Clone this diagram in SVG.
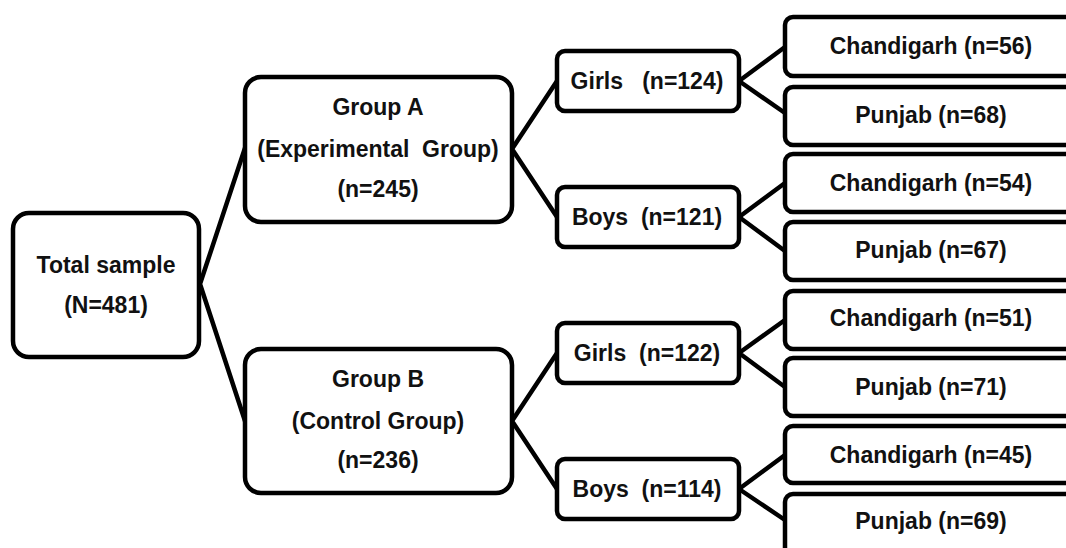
<svg xmlns="http://www.w3.org/2000/svg" width="1066" height="548" viewBox="0 0 1066 548">
<style>
.box{fill:#fff;stroke:#000;stroke-width:4.5}
.t{font-family:"Liberation Sans",Arial,sans-serif;font-weight:bold;font-size:23px;fill:#111;text-anchor:middle;white-space:pre}
.c{stroke:#000;stroke-width:4.5;fill:none;stroke-linecap:round;stroke-linejoin:round}
</style>
<rect width="1066" height="548" fill="#fff"/>
<g id="connectors">
<polyline class="c" points="245,148 200,284 245,421"/>
<polyline class="c" points="557,81 512,149 557,217"/>
<polyline class="c" points="557,353 512,421 557,489"/>
<polyline class="c" points="785,47 739,81 785,113"/>
<polyline class="c" points="785,183 739,217 785,251"/>
<polyline class="c" points="785,320 739,353 785,387"/>
<polyline class="c" points="785,455 739,489 785,520"/>
</g>
<g id="total">
<rect class="box" x="13" y="213" width="186" height="144" rx="16"/>
<text class="t" x="106" y="273">Total sample</text>
<text class="t" x="106" y="313">(N=481)</text>
</g>
<g id="groupA">
<rect class="box" x="245" y="77" width="267" height="145" rx="16"/>
<text class="t" x="378" y="115">Group A</text>
<text class="t" x="378" y="157">(Experimental  Group)</text>
<text class="t" x="378" y="197">(n=245)</text>
</g>
<g id="groupB">
<rect class="box" x="245" y="349" width="267" height="144" rx="16"/>
<text class="t" x="378" y="387">Group B</text>
<text class="t" x="378" y="429">(Control Group)</text>
<text class="t" x="378" y="468">(n=236)</text>
</g>
<g id="girlsA">
<rect class="box" x="557" y="51" width="182" height="60" rx="8"/>
<text class="t" x="647" y="89">Girls   (n=124)</text>
</g>
<g id="boysA">
<rect class="box" x="557" y="187" width="182" height="60" rx="8"/>
<text class="t" x="647" y="225">Boys  (n=121)</text>
</g>
<g id="girlsB">
<rect class="box" x="557" y="323" width="182" height="60" rx="8"/>
<text class="t" x="647" y="361">Girls  (n=122)</text>
</g>
<g id="boysB">
<rect class="box" x="557" y="459" width="182" height="60" rx="8"/>
<text class="t" x="647" y="497">Boys  (n=114)</text>
</g>
<g id="chdGA">
<rect class="box" x="785" y="17" width="292" height="59" rx="8"/>
<text class="t" x="931" y="54">Chandigarh (n=56)</text>
</g>
<g id="pbGA">
<rect class="box" x="785" y="87" width="292" height="58" rx="8"/>
<text class="t" x="931" y="123">Punjab (n=68)</text>
</g>
<g id="chdBA">
<rect class="box" x="785" y="154" width="292" height="58" rx="8"/>
<text class="t" x="931" y="191">Chandigarh (n=54)</text>
</g>
<g id="pbBA">
<rect class="box" x="785" y="222" width="292" height="58" rx="8"/>
<text class="t" x="931" y="258">Punjab (n=67)</text>
</g>
<g id="chdGB">
<rect class="box" x="785" y="291" width="292" height="58" rx="8"/>
<text class="t" x="931" y="326">Chandigarh (n=51)</text>
</g>
<g id="pbGB">
<rect class="box" x="785" y="358" width="292" height="58" rx="8"/>
<text class="t" x="931" y="395">Punjab (n=71)</text>
</g>
<g id="chdBB">
<rect class="box" x="785" y="426" width="292" height="57" rx="8"/>
<text class="t" x="931" y="463">Chandigarh (n=45)</text>
</g>
<g id="pbBB">
<rect class="box" x="785" y="494" width="292" height="70" rx="8"/>
<text class="t" x="931" y="529">Punjab (n=69)</text>
</g>
</svg>
